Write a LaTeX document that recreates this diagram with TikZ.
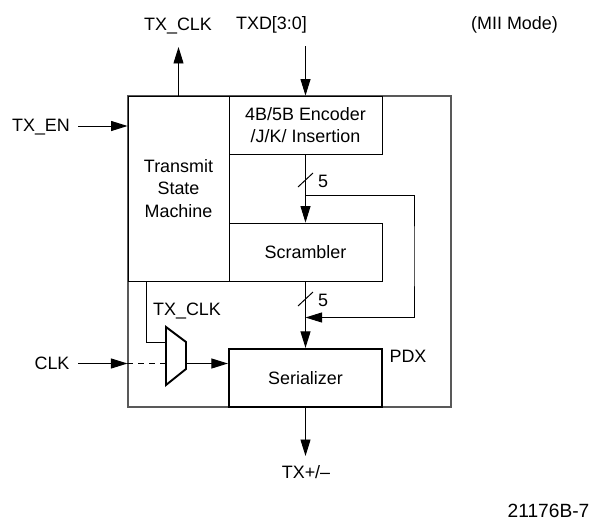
\documentclass[tikz,border=0pt]{standalone}
\usepackage{fontspec}
\setmainfont{Liberation Sans}
\usetikzlibrary{arrows.meta}

\tikzset{
    lbl/.style={inner sep=0pt,font=\fontsize{10.2}{12.9}\selectfont,align=center},
    blockbox/.style={draw,line width=0.5pt,inner sep=0pt,lbl,minimum width=153*0.02cm,minimum height=58*0.02cm},
    sig/.style={line width=0.55pt,-{Triangle[length=0.33cm,width=0.2cm]}},
    wire/.style={line width=0.55pt}
}

\begin{document}
\begin{tikzpicture}[x=0.02cm,y=-0.02cm]
    \useasboundingbox (0,0) rectangle (595,521);

    % outer device box and blocks
    \node[draw=black!65,line width=0.6pt,minimum width=323*0.02cm,minimum height=311*0.02cm,inner sep=0pt] (pdxbox) at (289.5,251.5) {};
    \node[blockbox,minimum width=101*0.02cm,minimum height=185*0.02cm] (tsm) at (178.5,188.5) {Transmit\\State\\Machine};
    \node[blockbox] (enc) at (305.5,125) {4B/5B Encoder\\/J/K/ Insertion};
    \node[blockbox] (scr) at (305.5,252) {Scrambler};
    \node[blockbox,line width=1.25pt] (ser) at (305.5,378) {Serializer};

    % pin labels
    \node[lbl] (txclk) at (178,26.5) {TX\_CLK};
    \node[lbl] (txd) at (271.5,24.5) {TXD[3:0]};
    \node[lbl] (mode) at (514.5,24.5) {(MII Mode)};
    \node[lbl] (txen) at (41,127.5) {TX\_EN};
    \node[lbl] (clk) at (52,363) {CLK};
    \node[lbl] (txout) at (306,472) {TX+/--};
    \node[lbl] (pdx) at (408,356) {PDX};
    \node[lbl,font=\fontsize{10.9}{12.9}\selectfont] (figno) at (548.5,511) {21176B-7};
    \node[lbl] (muxclk) at (187,311) {TX\_CLK};
    \node[lbl] (five) at (323,181) {5};
    \node[lbl] (fivelow) at (323,300) {5};

    % free ends and taps
    \coordinate (txclkend) at (178.5,47);
    \coordinate (txdstart) at (305.5,46);
    \coordinate (txenstart) at (78,126);
    \coordinate (clkstart) at (78,363.5);
    \coordinate (txoutend) at (305.5,456);
    \coordinate (tap) at (305.5,195);
    \coordinate (merge) at (305.5,317.5);
    \coordinate (bypass) at (414,256);
    \coordinate (muxin) at (146,281);

    % mux
    \coordinate (muxtl) at (166,327);
    \coordinate (muxtr) at (186,342);
    \coordinate (muxbr) at (186,369);
    \coordinate (muxbl) at (166,385);
    \coordinate (muxsel) at (166,342);
    \draw[line width=1.1pt,line join=miter] (muxtl) -- (muxtr) -- (muxbr) -- (muxbl) -- cycle;

    % connectors
    \draw[sig] (tsm.north) -- (txclkend);
    \draw[sig] (txdstart) -- (enc.north);
    \draw[sig] (txenstart) -- (txenstart -| tsm.west);
    \draw[sig] (clkstart) -- (clkstart -| pdxbox.west);
    \draw[wire,dash pattern=on 3.4pt off 2.8pt] (clkstart -| pdxbox.west) -- (clkstart -| muxtl);
    \draw[sig] (clkstart -| muxtr) -- (clkstart -| ser.west);
    \draw[wire] (muxin) |- (muxsel);
    \draw[sig] (enc.south) -- (scr.north);
    \draw[sig] (scr.south) -- (ser.north);
    \draw[sig] (tap) -| (bypass) |- (merge);
    \draw[sig] (ser.south) -- (txoutend);

    % bus ticks
    \draw[wire] (298,187) -- (313,173);
    \draw[wire] (298,306) -- (313,292);
\end{tikzpicture}
\end{document}
